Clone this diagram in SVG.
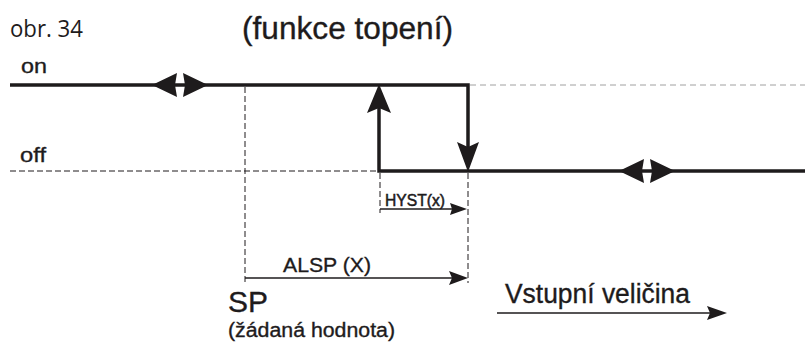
<svg xmlns="http://www.w3.org/2000/svg" width="805" height="343" viewBox="0 0 805 343">
<style>
.thick{stroke:#1e1b1c;stroke-width:3.5;fill:none}
.thin{stroke:#1e1b1c;stroke-width:1.6;fill:none}
.dash{stroke:#1e1b1c;stroke-width:1;fill:none;stroke-dasharray:6 3}
.gdash{stroke:#a0a0a0;stroke-width:1;fill:none;stroke-dasharray:6 4}
.head{fill:#1e1b1c;stroke:none}
.t{font-family:"Liberation Sans",Arial,sans-serif;fill:#1e1b1c;stroke:#1e1b1c;stroke-width:0.35}
</style>
<rect width="805" height="343" fill="#fff"/>
<g id="labels">
<text x="10" y="37" style="font-family:'Open Sans','Noto Sans',sans-serif;fill:#1e1b1c" font-size="23" textLength="73" lengthAdjust="spacingAndGlyphs">obr. 34</text>
<text class="t" x="242" y="39" font-size="31" textLength="211" lengthAdjust="spacingAndGlyphs">(funkce topení)</text>
<text class="t" x="21" y="73" font-size="21" textLength="26" lengthAdjust="spacingAndGlyphs">on</text>
<text class="t" x="20" y="162" font-size="21" textLength="26" lengthAdjust="spacingAndGlyphs">off</text>
</g>
<g id="connectors">
<line class="gdash" x1="470" y1="85" x2="805" y2="85"/>
<line class="dash" x1="10" y1="171" x2="379" y2="171"/>
<line class="dash" x1="245" y1="87" x2="245" y2="283"/>
<line class="dash" x1="380" y1="173" x2="380" y2="213"/>
<line class="dash" x1="468" y1="173" x2="468" y2="283"/>
<path class="thick" d="M10 85H468V150"/>
<path class="thick" d="M379 108V171H805"/>
<polygon class="head" points="379,84 391,113 379,108 367,113"/>
<polygon class="head" points="468,172 479,142 468,147 457,142"/>
<polygon class="head" points="152,85 177,73 175,85 177,97"/>
<polygon class="head" points="208,85 183,73 185,85 183,97"/>
<polygon class="head" points="619,171 644,159 642,171 644,183"/>
<polygon class="head" points="675,171 650,159 652,171 650,183"/>
<line class="thin" x1="380" y1="209" x2="452" y2="209"/>
<polygon class="head" points="467,209 450,203 452,209 450,215"/>
<line class="thin" x1="245" y1="278" x2="452" y2="278"/>
<polygon class="head" points="468,278 449,271 452,278 449,285"/>
<line class="thin" x1="497" y1="313" x2="710" y2="313"/>
<polygon class="head" points="727,313 707,306 710,313 707,320"/>
</g>
<g id="axis-labels">
<text class="t" x="385" y="206" font-size="16" textLength="60" lengthAdjust="spacingAndGlyphs" style="stroke-width:0.5">HYST(x)</text>
<text class="t" x="283" y="272" font-size="21" textLength="88" lengthAdjust="spacingAndGlyphs">ALSP (X)</text>
<text class="t" x="228" y="312" font-size="30" textLength="40" lengthAdjust="spacingAndGlyphs">SP</text>
<text class="t" x="228" y="337" font-size="20" textLength="167" lengthAdjust="spacingAndGlyphs">(žádaná hodnota)</text>
<text class="t" x="505" y="303" font-size="27" textLength="185" lengthAdjust="spacingAndGlyphs">Vstupní veličina</text>
</g>
</svg>
